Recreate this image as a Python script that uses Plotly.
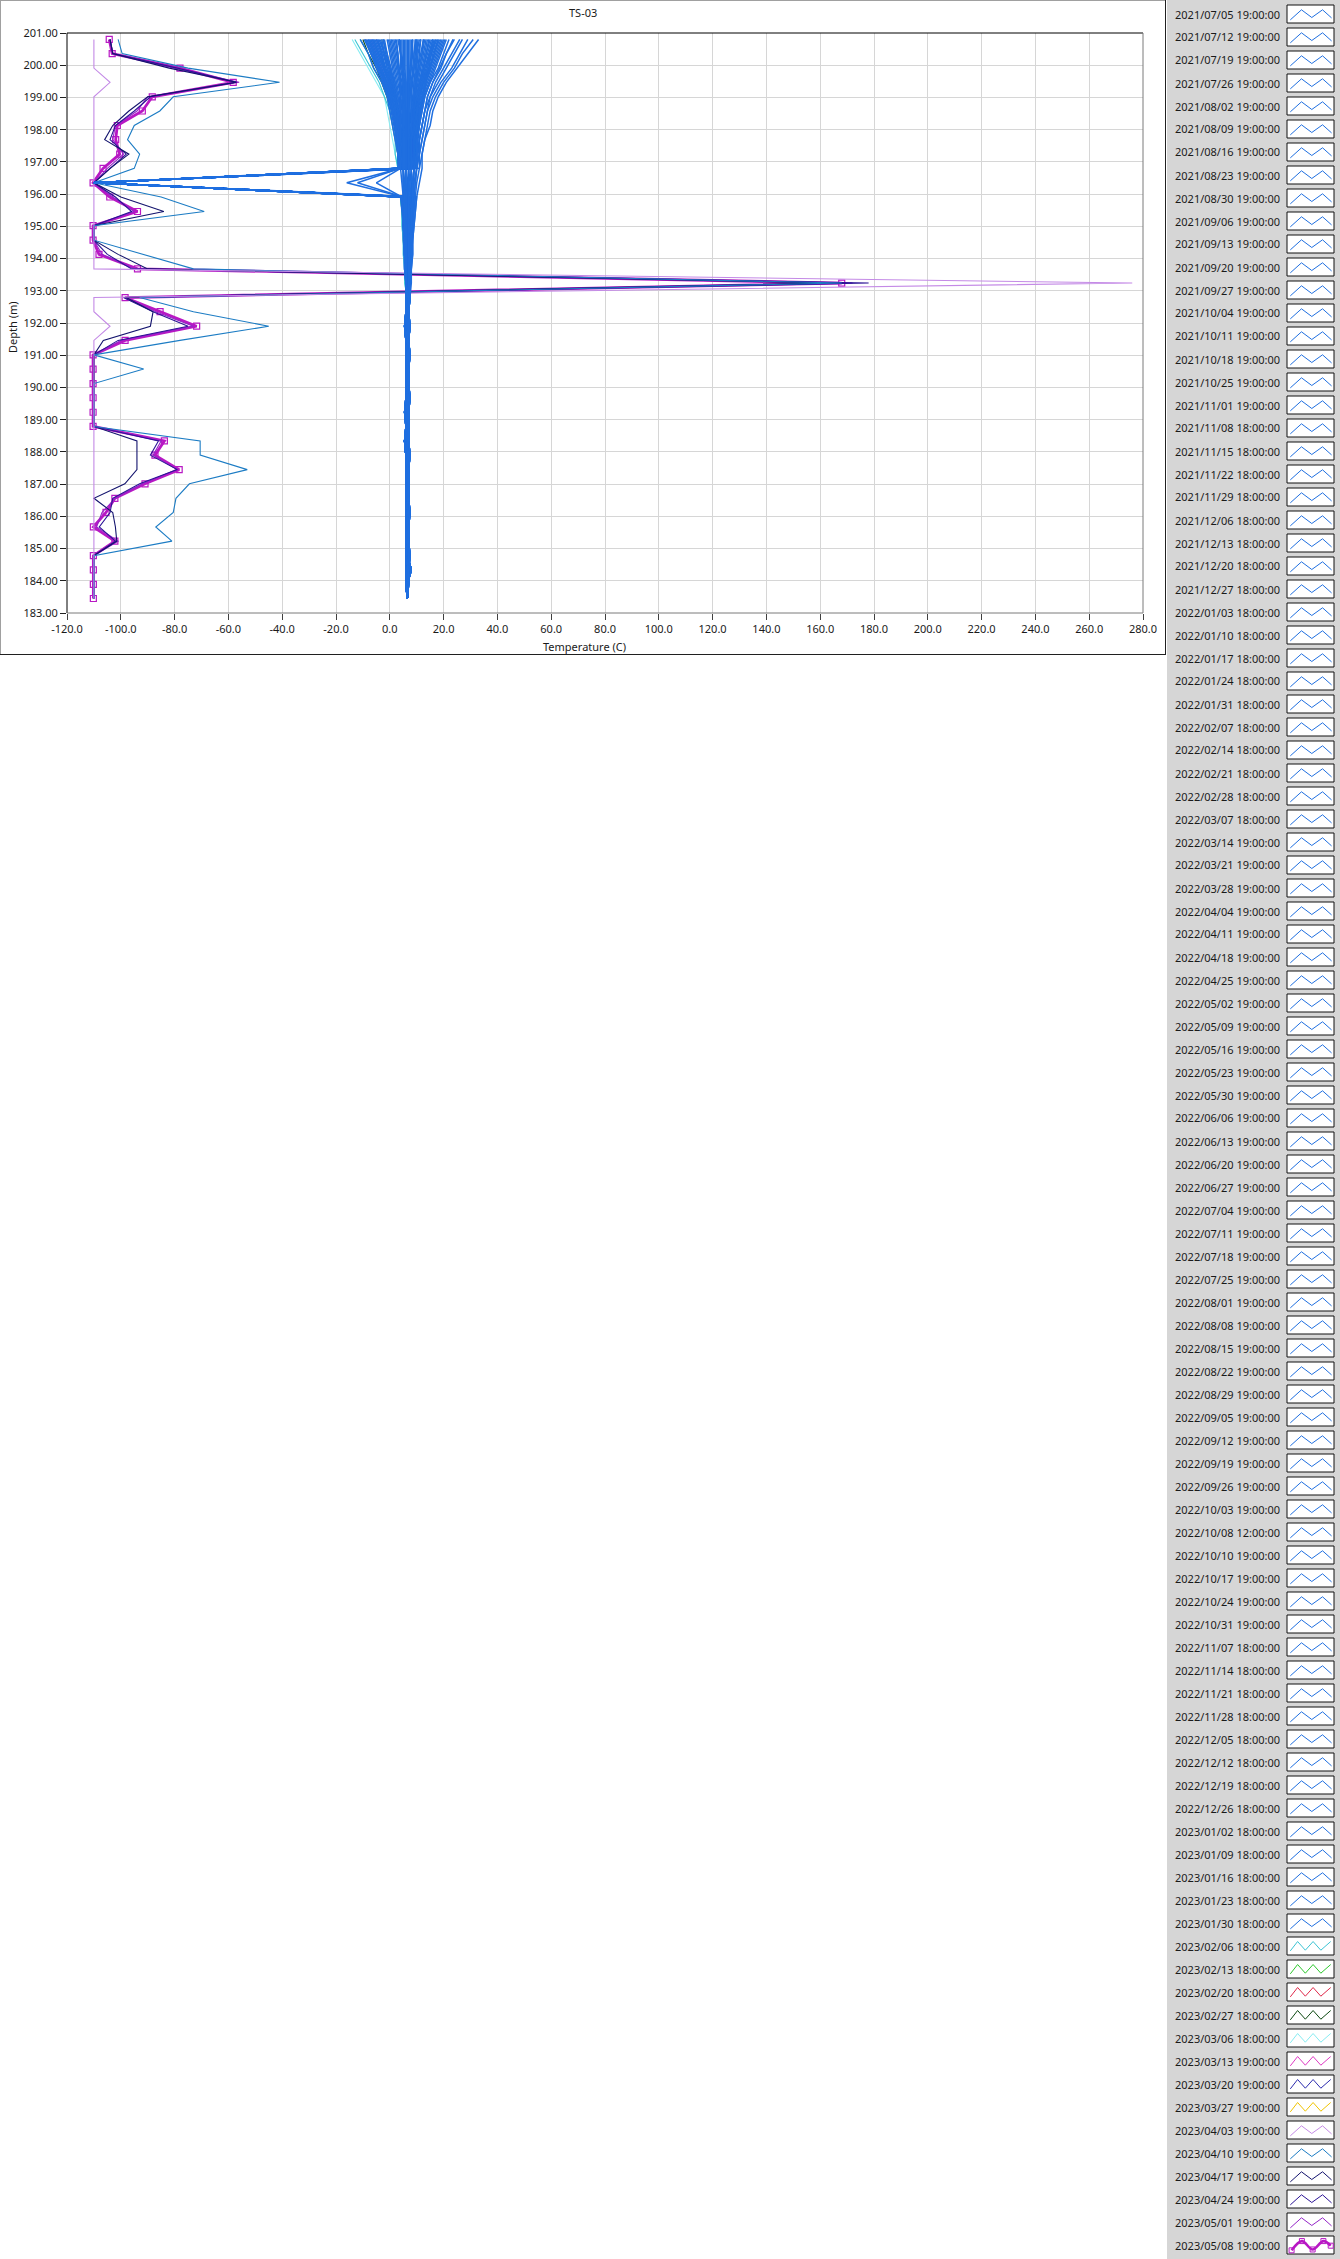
import plotly.graph_objects as go

FIG_W, FIG_H = 1340, 2259

# ---------------- data ----------------
DEPTH_M = [200.80, 200.36, 199.91, 199.47, 199.02, 198.58, 198.13, 197.69, 197.24, 196.80,
           196.35, 195.91, 195.46, 195.02, 194.57, 194.13, 193.68, 193.24, 192.79, 192.35,
           191.90, 191.46, 191.01, 190.57, 190.12, 189.68, 189.23, 188.79, 188.34, 187.90,
           187.45, 187.01, 186.56, 186.12, 185.67, 185.23, 184.78, 184.34, 183.89, 183.45]

X_TICKS = [-120, -100, -80, -60, -40, -20, 0, 20, 40, 60, 80, 100, 120, 140, 160, 180, 200,
           220, 240, 260, 280]
Y_TICKS = [183, 184, 185, 186, 187, 188, 189, 190, 191, 192, 193, 194, 195, 196, 197, 198,
           199, 200, 201]

DATES_2021 = [
    "2021/07/05 19:00:00", "2021/07/12 19:00:00", "2021/07/19 19:00:00", "2021/07/26 19:00:00",
    "2021/08/02 19:00:00", "2021/08/09 19:00:00", "2021/08/16 19:00:00", "2021/08/23 19:00:00",
    "2021/08/30 19:00:00", "2021/09/06 19:00:00", "2021/09/13 19:00:00", "2021/09/20 19:00:00",
    "2021/09/27 19:00:00", "2021/10/04 19:00:00", "2021/10/11 19:00:00", "2021/10/18 19:00:00",
    "2021/10/25 19:00:00", "2021/11/01 19:00:00", "2021/11/08 18:00:00", "2021/11/15 18:00:00",
    "2021/11/22 18:00:00", "2021/11/29 18:00:00", "2021/12/06 18:00:00", "2021/12/13 18:00:00",
    "2021/12/20 18:00:00", "2021/12/27 18:00:00"]
DATES_2022 = [
    "2022/01/03 18:00:00", "2022/01/10 18:00:00", "2022/01/17 18:00:00", "2022/01/24 18:00:00",
    "2022/01/31 18:00:00", "2022/02/07 18:00:00", "2022/02/14 18:00:00", "2022/02/21 18:00:00",
    "2022/02/28 18:00:00", "2022/03/07 18:00:00", "2022/03/14 19:00:00", "2022/03/21 19:00:00",
    "2022/03/28 19:00:00", "2022/04/04 19:00:00", "2022/04/11 19:00:00", "2022/04/18 19:00:00",
    "2022/04/25 19:00:00", "2022/05/02 19:00:00", "2022/05/09 19:00:00", "2022/05/16 19:00:00",
    "2022/05/23 19:00:00", "2022/05/30 19:00:00", "2022/06/06 19:00:00", "2022/06/13 19:00:00",
    "2022/06/20 19:00:00", "2022/06/27 19:00:00", "2022/07/04 19:00:00", "2022/07/11 19:00:00",
    "2022/07/18 19:00:00", "2022/07/25 19:00:00", "2022/08/01 19:00:00", "2022/08/08 19:00:00",
    "2022/08/15 19:00:00", "2022/08/22 19:00:00", "2022/08/29 19:00:00", "2022/09/05 19:00:00",
    "2022/09/12 19:00:00", "2022/09/19 19:00:00", "2022/09/26 19:00:00", "2022/10/03 19:00:00",
    "2022/10/08 12:00:00", "2022/10/10 19:00:00", "2022/10/17 19:00:00", "2022/10/24 19:00:00",
    "2022/10/31 19:00:00", "2022/11/07 18:00:00", "2022/11/14 18:00:00", "2022/11/21 18:00:00",
    "2022/11/28 18:00:00", "2022/12/05 18:00:00", "2022/12/12 18:00:00", "2022/12/19 18:00:00",
    "2022/12/26 18:00:00"]
DATES_2023 = [
    "2023/01/02 18:00:00", "2023/01/09 18:00:00", "2023/01/16 18:00:00", "2023/01/23 18:00:00",
    "2023/01/30 18:00:00", "2023/02/06 18:00:00", "2023/02/13 18:00:00", "2023/02/20 18:00:00",
    "2023/02/27 18:00:00", "2023/03/06 18:00:00", "2023/03/13 19:00:00", "2023/03/20 19:00:00",
    "2023/03/27 19:00:00", "2023/04/03 19:00:00", "2023/04/10 19:00:00", "2023/04/17 19:00:00",
    "2023/04/24 19:00:00", "2023/05/01 19:00:00", "2023/05/08 19:00:00"]

# temperature profiles (deg C) at DEPTH_M, one row per reading date
TEMPS_2021 = [
    "20 18 16 14 12 11 11 10 10 9 8.5 8.5 8 8 7.5 7.5 7.5 7 7.5 7 7.5 7 7.5 7 7 7.5 7 7 7 7.5 7 7 7 7.5 7 7 7.5 7 7 6.5",
    "22 20 18 15 13 12 11 10 10 10 9 8.5 8.5 8 8 7.5 7.5 7.5 7 7 7 6.5 7 6.5 6.5 7 6.5 6.5 6.5 7 6.5 6.5 6.5 7 6.5 6.5 7 6.5 6.5 6.5",
    "26 23 20 17 15 13 12 11 11 10 9.5 9 8.5 8.5 8 8 7.5 7.5 7 6.5 6.5 7 6.5 7 6.5 6.5 7 6.5 6.5 6.5 7 6.5 7 6.5 6.5 7 7 7 6.5 6.5",
    "33 29 25 21 18 16 15 13 12 12 11 10 9.5 9 8.5 8.5 8 8 7.5 7 7.5 7 7.5 7 7 7.5 7 7 7 7.5 7 7 7 7.5 7 7 7.5 7 7 6.5",
    "29 26 23 19 16 14 13 12 11 11 10 9.5 9 8.5 8.5 8 8 7.5 7 7 7 6.5 7 6.5 6.5 7 6.5 6.5 6.5 7 6.5 6.5 6.5 7 6.5 6.5 7 6.5 6.5 6.5",
    "24 21 19 16 14 13 12 11 10 10 9.5 9 8.5 8.5 8 8 7.5 7.5 7 6.5 6.5 7 6.5 7 6.5 6.5 7 6.5 6.5 6.5 7 6.5 7 6.5 6.5 7 7 7 6.5 6.5",
    "21 19 17 15 13 12 11 10 10 9 9 8.5 8 8 8 7.5 7.5 7 6.5 6.5 7 6.5 6.5 6.5 7 6.5 6 6.5 5.5 6 6.5 6.5 6.5 6.5 6.5 6.5 6.5 8 6.5 6.5",
    "19 17 15 13 12 11 10 10 9 9 8.5 8.5 8 8 7.5 7.5 7.5 7 7.5 7 7.5 7 7.5 7 7 7.5 7 7 7 7.5 7 7 7 7.5 7 7 7.5 7 7 6.5",
    "18 16 15 13 12 11 10 9 9 9 8.5 8 8 7.5 7.5 7.5 7 7 7 7 7 6.5 7 6.5 6.5 7 6.5 6.5 6.5 7 6.5 6.5 6.5 7 6.5 6.5 7 6.5 6.5 6.5",
    "17 15 14 12 11 10 10 9 9 9 8.5 8 7.5 7.5 7.5 7.5 7 7 7 6.5 6.5 7 6.5 7 6.5 6.5 7 6.5 6.5 6.5 7 6.5 7 6.5 6.5 7 7 7 6.5 6.5",
    "16 15 13 12 11 10 9 9 9 8 8 8 7.5 7.5 7.5 7.5 7 7 6.5 6.5 7 6.5 6.5 6.5 7 6.5 6 6.5 5.5 6 6.5 6.5 6.5 6.5 6.5 6.5 6.5 8 6.5 6.5",
    "14 13 12 11 10 9 9 8 8 8 8 7.5 7.5 7.5 7 7 7 7 7.5 7 7.5 7 7.5 7 7 7.5 7 7 7 7.5 7 7 7 7.5 7 7 7.5 7 7 6.5",
    "13 12 11 10 9 9 9 8 8 8 7.5 7.5 7.5 7 7 7 7 7 7 7 7 6.5 7 6.5 6.5 7 6.5 6.5 6.5 7 6.5 6.5 6.5 7 6.5 6.5 7 6.5 6.5 6.5",
    "11 10 10 9 9 8 8 8 8 7 7.5 7 7 7 7 7 7 7 7 6.5 6.5 7 6.5 7 6.5 6.5 7 6.5 6.5 6.5 7 6.5 7 6.5 6.5 7 7 7 6.5 6.5",
    "10 10 9 8 8 8 8 7 7 7 7 7 7 7 7 7 7 7 6.5 6.5 7 6.5 6.5 6.5 7 6.5 6 6.5 5.5 6 6.5 6.5 6.5 6.5 6.5 6.5 6.5 8 6.5 6.5",
    "8 8 8 7 7 7 7 7 7 7 7 7 7 6.5 6.5 6.5 6.5 6.5 6 6 5.5 6 6 6 6 6 5.5 6 5.5 6 6 6 6 6 6 6 6 6 6 6.5",
    "7 7 7 7 7 7 7 7 7 7 6.5 6.5 6.5 6.5 6.5 6.5 6.5 6.5 6.5 6 6.5 6 6.5 6.5 6 6.5 6.5 6 6.5 6 6 6.5 6 6.5 6.5 6 6.5 6.5 6 6.5",
    "5 5 5 6 6 6 6 6 6 6 6 6.5 6.5 6.5 6.5 6.5 6.5 6.5 7 7 7 6.5 7 6.5 6.5 7 6.5 6.5 6.5 7 6.5 6.5 6.5 7 6.5 6.5 7 6.5 6.5 6.5",
    "4 4 5 5 5 6 6 6 6 6 6 6 6.5 6.5 6.5 6.5 6.5 6.5 6.5 6.5 7 6.5 6.5 6.5 7 6.5 6 6.5 5.5 6 6.5 6.5 6.5 6.5 6.5 6.5 6.5 8 6.5 6.5",
    "3 4 4 5 5 5 5 6 6 6 6 6 6 6.5 6.5 6.5 6.5 6.5 6 6 5.5 6 6 6 6 6 5.5 6 5.5 6 6 6 6 6 6 6 6 6 6 6.5",
    "1 2 3 4 4 5 5 5 5 5 5.5 6 6 6 6 6 6.5 6.5 6.5 6 6.5 6 6.5 6.5 6 6.5 6.5 6 6.5 6 6 6.5 6 6.5 6.5 6 6.5 6.5 6 6.5",
    "0 1 2 3 4 4 5 5 5 5 5.5 5.5 6 6 6 6 6 6.5 7 7 7 6.5 7 6.5 6.5 7 6.5 6.5 6.5 7 6.5 6.5 6.5 7 6.5 6.5 7 6.5 6.5 6.5",
    "-2 -1 0 2 3 4 4 4 5 5 5 5.5 5.5 6 6 6 6 6 6.5 6.5 7 6.5 6.5 6.5 7 6.5 6 6.5 5.5 6 6.5 6.5 6.5 6.5 6.5 6.5 6.5 8 6.5 6.5",
    "-3 -2 0 1 2 3 4 4 5 5 5 5.5 5.5 5.5 6 6 6 6 6 6 5.5 6 6 6 6 6 5.5 6 5.5 6 6 6 6 6 6 6 6 6 6 6.5",
    "-4 -2 -1 1 2 3 3 4 4 5 5 5 5.5 5.5 6 6 6 6 6.5 6 6.5 6 6.5 6.5 6 6.5 6.5 6 6.5 6 6 6.5 6 6.5 6.5 6 6.5 6.5 6 6.5",
    "-5 -3 -2 0 2 3 3 4 4 4 4.5 5 5.5 5.5 5.5 6 6 6 7 7 7 6.5 7 6.5 6.5 7 6.5 6.5 6.5 7 6.5 6.5 6.5 7 6.5 6.5 7 6.5 6.5 6.5",
]
TEMPS_2022 = [
    "-6.5 -4.5 -2.5 -0.5 1 2 2.5 3 3.5 4 -16 5 5 5.5 5.5 5.5 6 6 6 6 5.5 6 6 6 6 6 5.5 6 5.5 6 6 6 6 6 6 6 6 6 6 6.5",
    "-7.5 -5.5 -3.5 -1.5 0.5 1.5 2.5 3 3.5 4 -12 5 5 5.5 5.5 5.5 6 6 6.5 6 6.5 6 6.5 6.5 6 6.5 6.5 6 6.5 6 6 6.5 6 6.5 6.5 6 6.5 6.5 6 6.5",
    "-8 -6 -4 -1.5 0 1.5 2 3 3 4 -5 4.5 5 5 5.5 5.5 6 6 6.5 6.5 7 6.5 6.5 6.5 7 6.5 6 6.5 5.5 6 6.5 6.5 6.5 6.5 6.5 6.5 6.5 8 6.5 6.5",
    "-9 -7 -4.5 -2.5 -0.5 1 2 2.5 3 3.5 -110 4.5 5 5 5.5 5.5 5.5 6 7 7 7 6.5 7 6.5 6.5 7 6.5 6.5 6.5 7 6.5 6.5 6.5 7 6.5 6.5 7 6.5 6.5 6.5",
    "-8.5 -6.5 -4 -2 -0.5 1 2 2.5 3 3.5 -110 4.5 5 5 5.5 5.5 6 6 6 6 5.5 6 6 6 6 6 5.5 6 5.5 6 6 6 6 6 6 6 6 6 6 6.5",
    "-11 -8 -6 -3 -1 0 1 2 3 3 -110 4 4.5 5 5 5.5 5.5 6 6.5 6 6.5 6 6.5 6.5 6 6.5 6.5 6 6.5 6 6 6.5 6 6.5 6.5 6 6.5 6.5 6 6.5",
    "-9.5 -7 -5 -2.5 -0.5 0.5 1.5 2.5 3 3.5 -110 4.5 5 5 5.5 5.5 5.5 6 6.5 6.5 7 6.5 6.5 6.5 7 6.5 6 6.5 5.5 6 6.5 6.5 6.5 6.5 6.5 6.5 6.5 8 6.5 6.5",
    "-7.5 -5.5 -3.5 -1 0.5 1.5 2.5 3 3.5 4 -110 4.5 5 5 5.5 5.5 6 6 7 7 7 6.5 7 6.5 6.5 7 6.5 6.5 6.5 7 6.5 6.5 6.5 7 6.5 6.5 7 6.5 6.5 6.5",
    "-7 -5 -3 -1 1 2 3 3 4 4 -110 5 5 5.5 5.5 5.5 6 6 6 6 5.5 6 6 6 6 6 5.5 6 5.5 6 6 6 6 6 6 6 6 6 6 6.5",
    "-6 -4 -2 0 1 2 3 3.5 4 4.5 -110 5 5 5.5 5.5 5.5 6 6 6.5 6 6.5 6 6.5 6.5 6 6.5 6.5 6 6.5 6 6 6.5 6 6.5 6.5 6 6.5 6.5 6 6.5",
    "-5.5 -3.5 -2 0 1.5 2.5 3 3.5 4 4.5 -110 5 5.5 5.5 5.5 6 6 6 6.5 6.5 7 6.5 6.5 6.5 7 6.5 6 6.5 5.5 6 6.5 6.5 6.5 6.5 6.5 6.5 6.5 8 6.5 6.5",
    "-3.5 -2 -0.5 1 2 3 3.5 4 4.5 5 -110 5.5 5.5 5.5 6 6 6 6 7 7 7 6.5 7 6.5 6.5 7 6.5 6.5 6.5 7 6.5 6.5 6.5 7 6.5 6.5 7 6.5 6.5 6.5",
    "-2.5 -1 0.5 1.5 2.5 3.5 4 4.5 5 5 -110 5.5 5.5 6 6 6 6 6 6 6 5.5 6 6 6 6 6 5.5 6 5.5 6 6 6 6 6 6 6 6 6 6 6.5",
    "0.5 1.5 2.5 3.5 4 4.5 5 5 5 5 -110 5.5 6 6 6 6 6 6.5 6.5 6 6.5 6 6.5 6.5 6 6.5 6.5 6 6.5 6 6 6.5 6 6.5 6.5 6 6.5 6.5 6 6.5",
    "1.5 2.5 3.5 4 4.5 5 5 5.5 5.5 5.5 -110 6 6 6 6 6 6.5 6.5 6.5 6.5 7 6.5 6.5 6.5 7 6.5 6 6.5 5.5 6 6.5 6.5 6.5 6.5 6.5 6.5 6.5 8 6.5 6.5",
    "3.5 4 4.5 5 5.5 5.5 5.5 6 6 6 -110 6 6 6.5 6.5 6.5 6.5 6.5 7 7 7 6.5 7 6.5 6.5 7 6.5 6.5 6.5 7 6.5 6.5 6.5 7 6.5 6.5 7 6.5 6.5 6.5",
    "5.5 5.5 5.5 6 6 6 6 6 6 6 -110 6.5 6.5 6.5 6.5 6.5 6.5 6.5 7 6.5 6.5 7 6.5 7 6.5 6.5 7 6.5 6.5 6.5 7 6.5 7 6.5 6.5 7 7 7 6.5 6.5",
    "6.5 6.5 6.5 6.5 6.5 6.5 6.5 6.5 6.5 6.5 -110 6.5 6.5 6.5 6.5 6.5 6.5 6.5 7.5 7 7.5 7 7.5 7 7 7.5 7 7 7 7.5 7 7 7 7.5 7 7 7.5 7 7 6.5",
    "8.5 8 7.5 7.5 7 7 7 7 7 7 -110 7 7 6.5 6.5 6.5 6.5 6.5 6.5 6.5 7 6.5 6.5 6.5 7 6.5 6 6.5 5.5 6 6.5 6.5 6.5 6.5 6.5 6.5 6.5 8 6.5 6.5",
    "9.5 9 8.5 8 7.5 7.5 7 7 7 7 -110 7 7 7 7 7 6.5 6.5 7 7 7 6.5 7 6.5 6.5 7 6.5 6.5 6.5 7 6.5 6.5 6.5 7 6.5 6.5 7 6.5 6.5 6.5",
    "11.5 10.5 10 9.5 9 8.5 8 8 7.5 7.5 -110 7 7 7 7 7 7 7 7 6.5 6.5 7 6.5 7 6.5 6.5 7 6.5 6.5 6.5 7 6.5 7 6.5 6.5 7 7 7 6.5 6.5",
    "12.5 11.5 10.5 10 9.5 9 8.5 8 8 8 -110 7.5 7 7 7 7 7 7 7.5 7 7.5 7 7.5 7 7 7.5 7 7 7 7.5 7 7 7 7.5 7 7 7.5 7 7 6.5",
    "13.5 12.5 11.5 10.5 9.5 9 8.5 8.5 8 8 -110 7.5 7.5 7 7 7 7 7 6.5 6.5 7 6.5 6.5 6.5 7 6.5 6 6.5 5.5 6 6.5 6.5 6.5 6.5 6.5 6.5 6.5 8 6.5 6.5",
    "15.5 14 12.5 11.5 10.5 10 9.5 9 8.5 8.5 -110 7.5 7.5 7.5 7.5 7 7 7 7 7 7 6.5 7 6.5 6.5 7 6.5 6.5 6.5 7 6.5 6.5 6.5 7 6.5 6.5 7 6.5 6.5 6.5",
    "16.5 15 13.5 12 11 10.5 10 9.5 9 8.5 -110 8 7.5 7.5 7.5 7.5 7 7 7 6.5 6.5 7 6.5 7 6.5 6.5 7 6.5 6.5 6.5 7 6.5 7 6.5 6.5 7 7 7 6.5 6.5",
    "17.5 15.5 14 12.5 11.5 10.5 10 9.5 9 8.5 -110 8 7.5 7.5 7.5 7.5 7 7 7.5 7 7.5 7 7.5 7 7 7.5 7 7 7 7.5 7 7 7 7.5 7 7 7.5 7 7 6.5",
    "18.5 16.5 14.5 13 12 11 10.5 10 9.5 9 -110 8 8 7.5 7.5 7.5 7 7 6.5 6.5 7 6.5 6.5 6.5 7 6.5 6 6.5 5.5 6 6.5 6.5 6.5 6.5 6.5 6.5 6.5 8 6.5 6.5",
    "19.5 17.5 15.5 13.5 12.5 11.5 10.5 10 9.5 9 -110 8.5 8 8 7.5 7.5 7.5 7 7 7 7 6.5 7 6.5 6.5 7 6.5 6.5 6.5 7 6.5 6.5 6.5 7 6.5 6.5 7 6.5 6.5 6.5",
    "23.5 21 18.5 16 14 13 12 11 10.5 10 -110 9 8.5 8 8 7.5 7.5 7.5 7 6.5 6.5 7 6.5 7 6.5 6.5 7 6.5 6.5 6.5 7 6.5 7 6.5 6.5 7 7 7 6.5 6.5",
    "31 27 24 20 17 15 14 13 12 11 -110 10 9.5 9 8.5 8.5 8 7.5 7.5 7 7.5 7 7.5 7 7 7.5 7 7 7 7.5 7 7 7 7.5 7 7 7.5 7 7 6.5",
    "27 24 21 18 15 14 13 12 11 10 -110 9.5 9 8.5 8 8 7.5 7.5 6.5 6.5 7 6.5 6.5 6.5 7 6.5 6 6.5 5.5 6 6.5 6.5 6.5 6.5 6.5 6.5 6.5 8 6.5 6.5",
    "20.5 18.5 16.5 14.5 12.5 11.5 11 10.5 10 9.5 -110 8.5 8 8 7.5 7.5 7.5 7 7 7 7 6.5 7 6.5 6.5 7 6.5 6.5 6.5 7 6.5 6.5 6.5 7 6.5 6.5 7 6.5 6.5 6.5",
    "18 16.5 15 13.5 12.5 11 10 9.5 9 9 -110 8 8 7.5 7.5 7.5 7 7 7 6.5 6.5 7 6.5 7 6.5 6.5 7 6.5 6.5 6.5 7 6.5 7 6.5 6.5 7 7 7 6.5 6.5",
    "17 15.5 14.5 12.5 11 10 9.5 9 8.5 8.5 -110 8 7.5 7.5 7.5 7.5 7 7 7.5 7 7.5 7 7.5 7 7 7.5 7 7 7 7.5 7 7 7 7.5 7 7 7.5 7 7 6.5",
    "16 14.5 13 11.5 10.5 9.5 9 8.5 8.5 8 -110 8 7.5 7.5 7.5 7.5 7 7 6.5 6.5 7 6.5 6.5 6.5 7 6.5 6 6.5 5.5 6 6.5 6.5 6.5 6.5 6.5 6.5 6.5 8 6.5 6.5",
    "15 13.5 12.5 11 10 9.5 9 8.5 8 8 -110 7.5 7.5 7.5 7.5 7 7 7 7 7 7 6.5 7 6.5 6.5 7 6.5 6.5 6.5 7 6.5 6.5 6.5 7 6.5 6.5 7 6.5 6.5 6.5",
    "14.5 13.5 12.5 11 10 9.5 9 8.5 8 8 -110 7.5 7.5 7.5 7 7 7 7 7 6.5 6.5 7 6.5 7 6.5 6.5 7 6.5 6.5 6.5 7 6.5 7 6.5 6.5 7 7 7 6.5 6.5",
    "12.5 12 11 10 9.5 9 8.5 8 8 7.5 -110 7.5 7.5 7 7 7 7 7 7.5 7 7.5 7 7.5 7 7 7.5 7 7 7 7.5 7 7 7 7.5 7 7 7.5 7 7 6.5",
    "11.5 11 10.5 9.5 9 8.5 8 8 7.5 7.5 -110 7.5 7 7 7 7 7 7 6.5 6.5 7 6.5 6.5 6.5 7 6.5 6 6.5 5.5 6 6.5 6.5 6.5 6.5 6.5 6.5 6.5 8 6.5 6.5",
    "10.5 10 9.5 9 8.5 8 8 7.5 7.5 7.5 -110 7 7 7 7 7 7 7 7 7 7 6.5 7 6.5 6.5 7 6.5 6.5 6.5 7 6.5 6.5 6.5 7 6.5 6.5 7 6.5 6.5 6.5",
    "9.5 9.5 9 8.5 8 8 7.5 7.5 7 7 -110 7 7 7 7 7 7 7 7 6.5 6.5 7 6.5 7 6.5 6.5 7 6.5 6.5 6.5 7 6.5 7 6.5 6.5 7 7 7 6.5 6.5",
    "10 9 9 8 8 8 7 7 7 7 -110 7 7 7 7 7 7 7 6 6 5.5 6 6 6 6 6 5.5 6 5.5 6 6 6 6 6 6 6 6 6 6 6.5",
    "8.5 8.5 8 7.5 7.5 7 7 7 7 7 -110 7 7 7 7 7 6.5 6.5 6.5 6 6.5 6 6.5 6.5 6 6.5 6.5 6 6.5 6 6 6.5 6 6.5 6.5 6 6.5 6.5 6 6.5",
    "7.5 7.5 7.5 7 7 7 7 7 7 7 -110 7 7 6.5 6.5 6.5 6.5 6.5 6.5 6.5 7 6.5 6.5 6.5 7 6.5 6 6.5 5.5 6 6.5 6.5 6.5 6.5 6.5 6.5 6.5 8 6.5 6.5",
    "6 6 6 6 6 6 6 6 6 6 -110 6.5 6.5 6.5 6.5 6.5 6.5 6.5 7 7 7 6.5 7 6.5 6.5 7 6.5 6.5 6.5 7 6.5 6.5 6.5 7 6.5 6.5 7 6.5 6.5 6.5",
    "4.5 4.5 5 5.5 5.5 6 6 6 6 6 -110 6.5 6.5 6.5 6.5 6.5 6.5 6.5 6 6 5.5 6 6 6 6 6 5.5 6 5.5 6 6 6 6 6 6 6 6 6 6 6.5",
    "3.5 4 4.5 5 5 5.5 6 6 6 6 -110 6 6.5 6.5 6.5 6.5 6.5 6.5 6.5 6 6.5 6 6.5 6.5 6 6.5 6.5 6 6.5 6 6 6.5 6 6.5 6.5 6 6.5 6.5 6 6.5",
    "2.5 3 3.5 4.5 5 5 5.5 5.5 6 6 -110 6 6 6.5 6.5 6.5 6.5 6.5 6.5 6.5 7 6.5 6.5 6.5 7 6.5 6 6.5 5.5 6 6.5 6.5 6.5 6.5 6.5 6.5 6.5 8 6.5 6.5",
    "2 3 3 4 5 5 5 5 6 6 -110 6 6 6 6 6.5 6.5 6.5 7 7 7 6.5 7 6.5 6.5 7 6.5 6.5 6.5 7 6.5 6.5 6.5 7 6.5 6.5 7 6.5 6.5 6.5",
    "-0.5 0.5 1.5 2.5 3.5 4 4.5 5 5 5 -110 5.5 6 6 6 6 6 6.5 6 6 5.5 6 6 6 6 6 5.5 6 5.5 6 6 6 6 6 6 6 6 6 6 6.5",
    "-1 0 1 2 3 4 4 5 5 5 -110 5.5 6 6 6 6 6 6.5 6.5 6 6.5 6 6.5 6.5 6 6.5 6.5 6 6.5 6 6 6.5 6 6.5 6.5 6 6.5 6.5 6 6.5",
    "-2.5 -1.5 0 1.5 2.5 3.5 4 4.5 5 5 -110 5.5 5.5 5.5 6 6 6 6 6.5 6.5 7 6.5 6.5 6.5 7 6.5 6 6.5 5.5 6 6.5 6.5 6.5 6.5 6.5 6.5 6.5 8 6.5 6.5",
    "-4.5 -2.5 -1 0.5 2 3 3.5 4 4.5 5 -110 5 5.5 5.5 6 6 6 6 7 7 7 6.5 7 6.5 6.5 7 6.5 6.5 6.5 7 6.5 6.5 6.5 7 6.5 6.5 7 6.5 6.5 6.5",
]
TEMPS_2023 = [
    "-4.5 -3 -1.5 0.5 2 2.5 3 3.5 4 4.5 -110 5 5.5 5.5 5.5 6 6 6 6 6 5.5 6 6 6 6 6 5.5 6 5.5 6 6 6 6 6 6 6 6 6 6 6.5",
    "-6 -4 -2 0 1 2 3 3 4 4 -110 5 5 5.5 5.5 5.5 6 6 6.5 6 6.5 6 6.5 6.5 6 6.5 6.5 6 6.5 6 6 6.5 6 6.5 6.5 6 6.5 6.5 6 6.5",
    "-6.5 -4.5 -2.5 -0.5 1 2 2.5 3 3.5 4 -110 5 5 5.5 5.5 5.5 6 6 6.5 6.5 7 6.5 6.5 6.5 7 6.5 6 6.5 5.5 6 6.5 6.5 6.5 6.5 6.5 6.5 6.5 8 6.5 6.5",
    "-8 -6 -4 -1 0 2 2 3 3 4 -110 4.5 5 5 5.5 5.5 6 6 7 7 7 6.5 7 6.5 6.5 7 6.5 6.5 6.5 7 6.5 6.5 6.5 7 6.5 6.5 7 6.5 6.5 6.5",
    "-9 -7 -4 -2 0 1 2 3 3 4 -110 4.5 5 5 5.5 5.5 5.5 6 6 6 5.5 6 6 6 6 6 5.5 6 5.5 6 6 6 6 6 6 6 6 6 6 6.5",
    "-13 -10 -7 -4 -2 0 1 2 2 3 -110 4 4.5 4.5 5 5 5.5 5.5 6.5 6 6.5 6 6.5 6.5 6 6.5 6.5 6 6.5 6 6 6.5 6 6.5 6.5 6 6.5 6.5 6 6.5",
    "-11 -8 -6 -3 -1 0 1 2 3 3 -110 4 4.5 5 5 5.5 5.5 6 6.5 6.5 7 6.5 6.5 6.5 7 6.5 6 6.5 5.5 6 6.5 6.5 6.5 6.5 6.5 6.5 6.5 8 6.5 6.5",
    "-9 -7 -4 -2 0 1 2 3 3 4 -110 4.5 5 5 5.5 5.5 5.5 6 7 7 7 6.5 7 6.5 6.5 7 6.5 6.5 6.5 7 6.5 6.5 6.5 7 6.5 6.5 7 6.5 6.5 6.5",
    "-10 -8 -5 -3 -1 1 2 3 3 3 -110 4.5 5 5 5.5 5.5 5.5 6 6 6 5.5 6 6 6 6 6 5.5 6 5.5 6 6 6 6 6 6 6 6 6 6 6.5",
    "-14 -11 -8 -5 -2 -1 0 1 2 3 -110 4 4.5 4.5 5 5 5.5 5.5 6.5 6 6.5 6 6.5 6.5 6 6.5 6.5 6 6.5 6 6 6.5 6 6.5 6.5 6 6.5 6.5 6 6.5",
    "-7 -5 -3 -1 1 2 3 3 4 4 -110 5 5 5.5 5.5 5.5 6 6 6.5 6.5 7 6.5 6.5 6.5 7 6.5 6 6.5 5.5 6 6.5 6.5 6.5 6.5 6.5 6.5 6.5 8 6.5 6.5",
    "-5 -3 -2 0 2 3 3 4 4 4 -110 5 5.5 5.5 5.5 6 6 6 7 7 7 6.5 7 6.5 6.5 7 6.5 6.5 6.5 7 6.5 6.5 6.5 7 6.5 6.5 7 6.5 6.5 6.5",
    "-3 -2 0 1 2 3 4 4 5 5 -110 5.5 5.5 5.5 6 6 6 6 6 6 5.5 6 6 6 6 6 5.5 6 5.5 6 6 6 6 6 6 6 6 6 6 6.5",
]
# last six readings: sensor string faulty
TEMPS_2023_FAULTY = [
    [-110, -110, -110, -104, -110, -110, -110, -110, -110, -110, -110, -110, -110, -110, -110, -110,
     -110, 276, -110, -110, -104, -110, -110, -110, -110, -110, -110, -110, -110, -110, -110, -110,
     -110, -110, -110, -110, -110, -110, -110, -110],
    [-101, -99.5, -75, -41, -80.5, -85.5, -95, -97.5, -93, -95, -110, -85, -69, -110, -110, -91.5,
     -73, 168, -93, -73, -45, -78, -110, -91.5, -110, -110, -110, -110, -70.5, -70.5, -53, -74.5,
     -79.5, -80.5, -87, -81, -110, -110, -110, -110],
    [-104, -103, -82, -57, -90, -97, -103, -106, -97, -104, -110, -100, -84, -110, -110, -101,
     -90, 162, -98, -88, -89, -106.5, -110, -110, -110, -110, -110, -110, -94, -94, -94, -98.5,
     -110, -103, -102, -101.5, -110, -110, -110, -110],
    [-104, -103, -79, -57, -89, -95, -102, -104, -98, -104, -110, -102, -96, -110, -110, -105,
     -96, 178, -99, -88, -75, -101, -110, -110, -110, -110, -110, -110, -86, -89, -79, -93,
     -103, -104, -108, -102, -110, -110, -110, -110],
    [-104, -103, -80, -56, -90, -94, -102, -103, -99, -105, -110, -103, -95, -110, -110, -107,
     -95, 172, -98, -87, -73, -100, -110, -110, -110, -110, -110, -110, -85, -88, -79, -92,
     -102, -107, -109, -101, -110, -110, -110, -110],
    [-104.3, -103.2, -78, -58.2, -88.3, -92, -101.3, -101.9, -100.4, -106.6, -110.3, -104.1,
     -93.8, -110.3, -110.3, -108.1, -93.8, 168, -98.4, -85.4, -71.8, -98.4, -110.3, -110.3,
     -110.3, -110.3, -110.3, -110.3, -83.8, -87.3, -78.3, -91, -102.2, -105.5, -110.2, -102.2,
     -110.2, -110.2, -110.2, -110.2],
]

# ---------------- styles ----------------
BLUE = "#1f6fe0"
COLORS_LATE = ["#3cc4d4", "#2ec82e", "#e0284a", "#0e4a12", "#86ecf2", "#e03ac4", "#2c2cae",
               "#f0c400", "#c48ae6", "#1c7cc4", "#14146e", "#2c1496", "#9424c8", "#b818c4"]
FONT = "Noto Sans"
TXT = "#1a1a1a"

# layout in pixels
PX_L, PX_R, PY_T, PY_B = 67, 1143, 33, 613
PANEL_R, PANEL_B = 1166, 655
LEG_L = 1167
ROW0, ROW_H = 14, 23
BOX_L, BOX_R, BOX_HH = 1287, 1334, 9


def px(x):
    return x / FIG_W


def py(y):
    return 1 - y / FIG_H


dates = DATES_2021 + DATES_2022 + DATES_2023
rows = [[float(v) for v in r.split()] for r in TEMPS_2021 + TEMPS_2022 + TEMPS_2023]
rows += [list(map(float, r)) for r in TEMPS_2023_FAULTY]
n_blue = len(rows) - len(COLORS_LATE)
colors = [BLUE] * n_blue + COLORS_LATE
assert len(dates) == len(rows)
for r in rows:
    assert len(r) == len(DEPTH_M), len(r)

fig = go.Figure()

last = len(rows) - 1
# LabVIEW draws the first plot on top: add in reverse order
for i in range(last, -1, -1):
    vals, col = rows[i], colors[i]
    if i == last:
        fig.add_trace(go.Scatter(
            x=vals, y=DEPTH_M, mode="lines+markers",
            line=dict(color=col, width=2.8),
            marker=dict(symbol="square-open", size=6, color=col, line=dict(width=1.2, color=col)),
            hoverinfo="skip", xaxis="x", yaxis="y"))
    else:
        fig.add_trace(go.Scatter(
            x=vals, y=DEPTH_M, mode="lines",
            line=dict(color=col, width=1.5 if i < n_blue else 1.1),
            hoverinfo="skip", xaxis="x", yaxis="y"))

# ---------------- legend (custom, LabVIEW style) ----------------
ZIG2 = ([0.03, 0.29, 0.53, 0.78, 0.99], [0.08, 0.80, 0.25, 0.80, 0.22])
ZIG3 = ([0.03, 0.20, 0.38, 0.56, 0.74, 0.97], [0.15, 0.82, 0.20, 0.82, 0.20, 0.82])
WAVE = ([0.06, 0.30, 0.55, 0.80, 0.97], [0.12, 0.78, 0.18, 0.78, 0.45])

shapes = []
annotations = []
shapes.append(dict(type="rect", xref="paper", yref="paper", x0=0, x1=px(PANEL_R), y0=py(PANEL_B), y1=1,
                   fillcolor="white", line=dict(width=0), layer="below"))
shapes.append(dict(type="rect", xref="paper", yref="paper", x0=px(LEG_L), x1=1, y0=0, y1=1,
                   fillcolor="#d6d6d6", line=dict(width=0), layer="below"))

box_w = BOX_R - BOX_L
for i, (lab, col) in enumerate(zip(dates, colors)):
    cy = ROW0 + ROW_H * i
    shapes.append(dict(type="rect", xref="paper", yref="paper",
                       x0=px(BOX_L), x1=px(BOX_R), y0=py(cy + BOX_HH), y1=py(cy - BOX_HH),
                       fillcolor="white", line=dict(color="#101010", width=1), layer="below"))
    annotations.append(dict(text=lab, x=px(1173), y=py(cy), xref="paper", yref="paper",
                            xanchor="left", yanchor="middle", showarrow=False,
                            font=dict(family=FONT, size=11, color=TXT)))
    if i == last:
        pat = WAVE
    elif n_blue <= i < n_blue + 8:
        pat = ZIG3
    else:
        pat = ZIG2
    gx = [BOX_L + 2 + f * (box_w - 4) for f in pat[0]]
    gy = [cy + BOX_HH - 2 - f * (2 * BOX_HH - 4) for f in pat[1]]
    if i == last:
        fig.add_trace(go.Scatter(x=gx, y=gy, mode="lines+markers", xaxis="x2", yaxis="y2",
                                 line=dict(color=col, width=2.6, shape="spline"),
                                 marker=dict(symbol="square-open", size=5, color=col),
                                 hoverinfo="skip"))
    else:
        fig.add_trace(go.Scatter(x=gx, y=gy, mode="lines", xaxis="x2", yaxis="y2",
                                 line=dict(color=col, width=1), hoverinfo="skip"))


def hline(y, x0, x1, color):
    shapes.append(dict(type="line", xref="paper", yref="paper", x0=px(x0), x1=px(x1),
                       y0=py(y), y1=py(y), line=dict(color=color, width=1)))


def vline(x, y0, y1, color):
    shapes.append(dict(type="line", xref="paper", yref="paper", x0=px(x), x1=px(x),
                       y0=py(y0), y1=py(y1), line=dict(color=color, width=1)))


hline(0.5, 0, PANEL_R, "#a0a0a0")
vline(0.5, 0, PANEL_B, "#a0a0a0")
hline(PANEL_B - 0.5, 0, PANEL_R, "#202020")
vline(PANEL_R - 0.5, 0, PANEL_B, "#202020")
hline(PY_T, PX_L, PX_R, "#000000")
vline(PX_L, PY_T, PY_B, "#000000")
hline(PY_B, PX_L, PX_R, "#7a7a7a")
vline(PX_R, PY_T, PY_B, "#7a7a7a")

annotations.append(dict(text="TS-03", x=px(583), y=py(13), xref="paper", yref="paper",
                        xanchor="center", yanchor="middle", showarrow=False,
                        font=dict(family=FONT, size=11, color=TXT)))
annotations.append(dict(text="Temperature (C)", x=px(584), y=py(646), xref="paper", yref="paper",
                        xanchor="center", yanchor="middle", showarrow=False,
                        font=dict(family=FONT, size=11, color=TXT)))
annotations.append(dict(text="Depth (m)", x=px(13), y=py(327), xref="paper", yref="paper",
                        xanchor="center", yanchor="middle", showarrow=False, textangle=-90,
                        font=dict(family=FONT, size=11, color=TXT)))

fig.update_layout(
    width=FIG_W, height=FIG_H, autosize=False,
    margin=dict(l=0, r=0, t=0, b=0, pad=0),
    paper_bgcolor="white", plot_bgcolor="rgba(0,0,0,0)",
    showlegend=False, hovermode=False,
    font=dict(family=FONT, size=11, color=TXT),
    xaxis=dict(domain=[px(PX_L), px(PX_R)], range=[X_TICKS[0], X_TICKS[-1]],
               tickmode="array", tickvals=X_TICKS, ticktext=[f"{v:.1f}" for v in X_TICKS],
               ticks="outside", ticklen=6, tickcolor="#404040", tickwidth=1,
               showgrid=True, gridcolor="#d6d6d6", gridwidth=1, zeroline=False, showline=False,
               tickfont=dict(family=FONT, size=11, color=TXT), fixedrange=True, automargin=False),
    yaxis=dict(domain=[py(PY_B), py(PY_T)], range=[Y_TICKS[0], Y_TICKS[-1]],
               tickmode="array", tickvals=Y_TICKS, ticktext=[f"{v:.2f}" for v in Y_TICKS],
               ticks="outside", ticklen=6, tickcolor="#202020", tickwidth=1,
               showgrid=True, gridcolor="#d6d6d6", gridwidth=1, zeroline=False, showline=False,
               tickfont=dict(family=FONT, size=11, color=TXT), fixedrange=True, automargin=False),
    xaxis2=dict(domain=[0, 1], range=[0, FIG_W], visible=False, fixedrange=True),
    yaxis2=dict(domain=[0, 1], range=[FIG_H, 0], visible=False, fixedrange=True),
    shapes=shapes, annotations=annotations,
)

fig.write_html(
    "out.html",
    config={"responsive": False, "displayModeBar": False},
    default_width=f"{FIG_W}px", default_height=f"{FIG_H}px",
    post_script=("document.body.style.margin='0';document.body.style.padding='0';"
                 "document.body.style.overflow='hidden';"
                 "document.documentElement.style.overflow='hidden';"),
)
